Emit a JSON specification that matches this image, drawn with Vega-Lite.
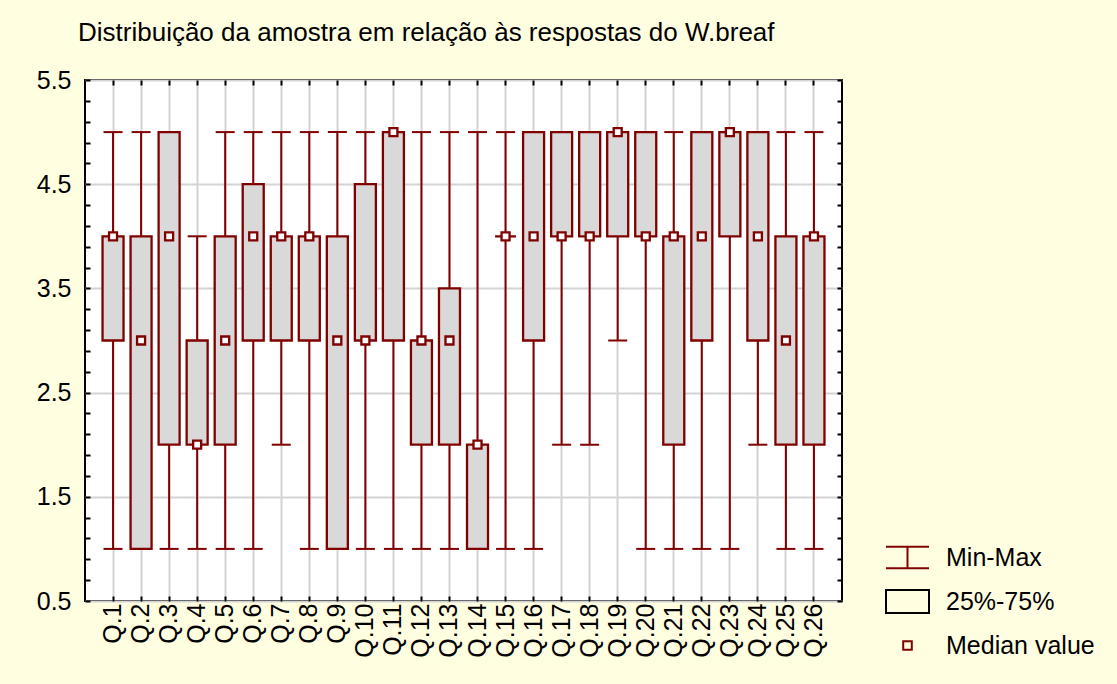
{
  "$schema": "https://vega.github.io/schema/vega-lite/v6.json",
  "width": 757,
  "height": 521,
  "autosize": {"type": "none"},
  "padding": {"left": 85, "top": 80, "right": 275, "bottom": 83},
  "background": "#FFFEE1",
  "config": {
    "font": "Liberation Sans",
    "view": {"fill": "white", "stroke": "black", "strokeWidth": 2},
    "axis": {
      "labelFont": "Liberation Sans",
      "labelFontSize": 25,
      "labelColor": "black",
      "domain": false,
      "tickColor": "black",
      "tickWidth": 2,
      "gridColor": "#D3D3D3",
      "gridWidth": 2
    }
  },
  "title": {
    "text": "Distribuição da amostra em relação às respostas do W.breaf",
    "anchor": "start",
    "frame": "group",
    "dx": -7,
    "offset": 22,
    "fontSize": 26,
    "font": "Liberation Sans",
    "fontWeight": "normal",
    "color": "black"
  },
  "datasets": {
    "stats": [
      {"q": "Q.1", "min": 1, "q1": 3, "med": 4, "q3": 4, "max": 5},
      {"q": "Q.2", "min": 1, "q1": 1, "med": 3, "q3": 4, "max": 5},
      {"q": "Q.3", "min": 1, "q1": 2, "med": 4, "q3": 5, "max": 5},
      {"q": "Q.4", "min": 1, "q1": 2, "med": 2, "q3": 3, "max": 4},
      {"q": "Q.5", "min": 1, "q1": 2, "med": 3, "q3": 4, "max": 5},
      {"q": "Q.6", "min": 1, "q1": 3, "med": 4, "q3": 4.5, "max": 5},
      {"q": "Q.7", "min": 2, "q1": 3, "med": 4, "q3": 4, "max": 5},
      {"q": "Q.8", "min": 1, "q1": 3, "med": 4, "q3": 4, "max": 5},
      {"q": "Q.9", "min": 1, "q1": 1, "med": 3, "q3": 4, "max": 5},
      {"q": "Q.10", "min": 1, "q1": 3, "med": 3, "q3": 4.5, "max": 5},
      {"q": "Q.11", "min": 1, "q1": 3, "med": 5, "q3": 5, "max": 5},
      {"q": "Q.12", "min": 1, "q1": 2, "med": 3, "q3": 3, "max": 5},
      {"q": "Q.13", "min": 1, "q1": 2, "med": 3, "q3": 3.5, "max": 5},
      {"q": "Q.14", "min": 1, "q1": 1, "med": 2, "q3": 2, "max": 5},
      {"q": "Q.15", "min": 1, "q1": 4, "med": 4, "q3": 4, "max": 5},
      {"q": "Q.16", "min": 1, "q1": 3, "med": 4, "q3": 5, "max": 5},
      {"q": "Q.17", "min": 2, "q1": 4, "med": 4, "q3": 5, "max": 5},
      {"q": "Q.18", "min": 2, "q1": 4, "med": 4, "q3": 5, "max": 5},
      {"q": "Q.19", "min": 3, "q1": 4, "med": 5, "q3": 5, "max": 5},
      {"q": "Q.20", "min": 1, "q1": 4, "med": 4, "q3": 5, "max": 5},
      {"q": "Q.21", "min": 1, "q1": 2, "med": 4, "q3": 4, "max": 5},
      {"q": "Q.22", "min": 1, "q1": 3, "med": 4, "q3": 5, "max": 5},
      {"q": "Q.23", "min": 1, "q1": 4, "med": 5, "q3": 5, "max": 5},
      {"q": "Q.24", "min": 2, "q1": 3, "med": 4, "q3": 5, "max": 5},
      {"q": "Q.25", "min": 1, "q1": 2, "med": 3, "q3": 4, "max": 5},
      {"q": "Q.26", "min": 1, "q1": 2, "med": 4, "q3": 4, "max": 5}
    ],
    "legendItems": [
      {"item": "Min-Max"},
      {"item": "25%-75%"},
      {"item": "Median value"}
    ]
  },
  "layer": [
    {
      "data": {"name": "stats"},
      "mark": {"type": "rule", "color": "#800000", "strokeWidth": 2},
      "encoding": {
        "x": {
          "field": "q", "type": "nominal", "sort": null,
          "scale": {"type": "band", "paddingInner": 0, "paddingOuter": 0.5},
          "axis": {"orient": "bottom", "labelAngle": 270, "grid": true, "tickSize": -5, "labelPadding": 7, "title": null}
        },
        "y": {
          "field": "min", "type": "quantitative",
          "scale": {"domain": [0.5, 5.5], "nice": false, "zero": false},
          "axis": {
            "orient": "left",
            "values": [0.5, 0.7, 0.9, 1.1, 1.3, 1.5, 1.7, 1.9, 2.1, 2.3, 2.5, 2.7, 2.9, 3.1, 3.3, 3.5, 3.7, 3.9, 4.1, 4.3, 4.5, 4.7, 4.9, 5.1, 5.3, 5.5],
            "labelExpr": "round(datum.value*10) % 10 == 5 ? format(datum.value, '.1f') : ''",
            "grid": true,
            "gridOpacity": {"condition": {"test": "round(datum.value*10) % 10 == 5", "value": 1}, "value": 0},
            "tickSize": -5,
            "labelPadding": 19,
            "title": null
          }
        },
        "y2": {"field": "max"}
      }
    },
    {
      "data": {"name": "stats"},
      "mark": {"type": "tick", "color": "#800000", "size": 19, "thickness": 2, "opacity": 1},
      "encoding": {
        "x": {"field": "q", "type": "nominal", "sort": null, "axis": null},
        "y": {"field": "min", "type": "quantitative", "axis": null}
      }
    },
    {
      "data": {"name": "stats"},
      "mark": {"type": "tick", "color": "#800000", "size": 19, "thickness": 2, "opacity": 1},
      "encoding": {
        "x": {"field": "q", "type": "nominal", "sort": null, "axis": null},
        "y": {"field": "max", "type": "quantitative", "axis": null}
      }
    },
    {
      "data": {"name": "stats"},
      "mark": {"type": "bar", "width": 21, "fill": "#D9D9D9", "stroke": "#800000", "strokeWidth": 2.3, "opacity": 1},
      "encoding": {
        "x": {
          "field": "q", "type": "nominal", "sort": null,
          "axis": {"orient": "top", "labels": false, "grid": false, "tickSize": -5, "title": null}
        },
        "y": {
          "field": "q1", "type": "quantitative",
          "axis": {
            "orient": "right", "labels": false, "grid": false, "tickSize": -5, "title": null,
            "values": [0.5, 0.7, 0.9, 1.1, 1.3, 1.5, 1.7, 1.9, 2.1, 2.3, 2.5, 2.7, 2.9, 3.1, 3.3, 3.5, 3.7, 3.9, 4.1, 4.3, 4.5, 4.7, 4.9, 5.1, 5.3, 5.5]
          }
        },
        "y2": {"field": "q3"}
      }
    },
    {
      "data": {"name": "stats"},
      "mark": {"type": "point", "shape": "square", "size": 64, "filled": true, "fill": "white", "stroke": "#800000", "strokeWidth": 2.3, "opacity": 1},
      "encoding": {
        "x": {"field": "q", "type": "nominal", "sort": null, "axis": null},
        "y": {"field": "med", "type": "quantitative", "axis": null}
      }
    },
    {
      "data": {"name": "legendItems"},
      "mark": {"type": "point", "filled": false, "size": 1849, "strokeWidth": 2, "opacity": 1, "invalid": "filter"},
      "encoding": {
        "y": {"field": "v", "type": "quantitative", "axis": null},
        "shape": {
          "field": "item", "type": "nominal",
          "scale": {
            "domain": ["Min-Max", "25%-75%", "Median value"],
            "range": ["M-1,-0.5H1M0,-0.5V0.5M-1,0.5H1", "M-1,-0.53H1V0.53H-1Z", "M-0.2,-0.2H0.2V0.2H-0.2Z"]
          },
          "legend": {
            "orient": "none", "legendX": 800, "legendY": 455, "title": null,
            "labelFontSize": 25, "labelFont": "Liberation Sans", "labelColor": "black",
            "symbolSize": 1849, "symbolStrokeWidth": 2, "labelOffset": 16, "rowPadding": 6, "padding": 0
          }
        },
        "stroke": {
          "field": "item", "type": "nominal",
          "scale": {
            "domain": ["Min-Max", "25%-75%", "Median value"],
            "range": ["#800000", "#000000", "#800000"]
          },
          "legend": {
            "orient": "none", "legendX": 800, "legendY": 455, "title": null,
            "labelFontSize": 25, "labelFont": "Liberation Sans", "labelColor": "black",
            "symbolSize": 1849, "symbolStrokeWidth": 2, "labelOffset": 16, "rowPadding": 6, "padding": 0
          }
        }
      }
    }
  ],
  "resolve": {
    "axis": {"x": "independent", "y": "independent"},
    "scale": {"x": "shared", "y": "shared"}
  }
}
